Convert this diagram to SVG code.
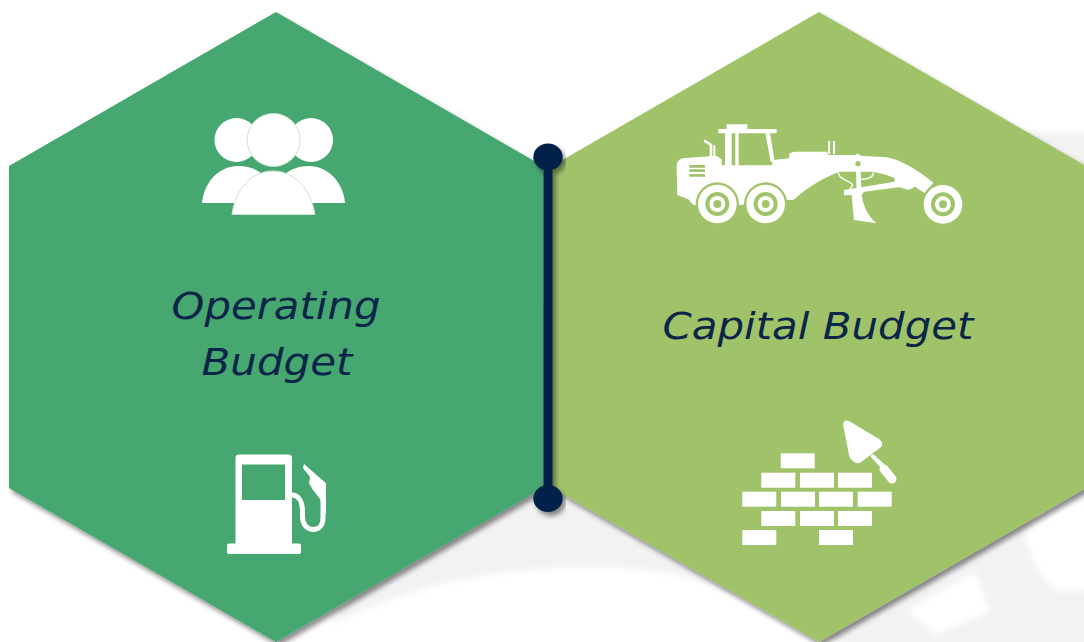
<svg xmlns="http://www.w3.org/2000/svg" width="1084" height="642" viewBox="0 0 1084 642">
<style>
.w{fill:#fff}
.lbl{font-family:"DejaVu Sans","Liberation Sans",sans-serif;font-style:italic;font-size:38px;fill:#0a2547;text-anchor:middle}
.hs{fill:none;stroke:#fff;stroke-linecap:round}
</style>
<defs>
<filter id="sh" x="-10%" y="-10%" width="120%" height="120%"><feDropShadow dx="3" dy="4" stdDeviation="2.500" flood-color="#000" flood-opacity=".45"/></filter>
<filter id="bl" x="-5%" y="-5%" width="110%" height="110%"><feGaussianBlur stdDeviation="3"/></filter>
<clipPath id="cv"><rect width="1084" height="642"/></clipPath>
</defs>
<rect width="1084" height="642" fill="#fff"/>
<g id="watermark" clip-path="url(#cv)">
<path d="M330 625C400 590 480 568 590 567C650 567 690 576 730 592L880 660H1120V132H1030L548 300Z" fill="#f2f2f2" filter="url(#bl)"/>
<path d="M907 610L975 572L990 612L935 635Z" fill="#fff" filter="url(#bl)"/>
<path d="M1025 537C1032 560 1045 590 1063 592L1100 588V500H1040Z" fill="#fff" filter="url(#bl)"/>
</g>
<g id="operating-budget">
<polygon points="276,12 543,166 543,488 276,642 9,488 9,166" fill="#46a771" filter="url(#sh)"/>
<text class="lbl" x="276" y="319" textLength="209" lengthAdjust="spacingAndGlyphs">Operating</text>
<text class="lbl" x="277" y="375" textLength="151" lengthAdjust="spacingAndGlyphs">Budget</text>
<g id="people-icon">
<circle class="w" cx="236.500" cy="140" r="22"/>
<circle class="w" cx="311" cy="140" r="22"/>
<path class="w" d="M202 203C204 181 220 166 238 166C248 166 256 169 262 174L240 203Z"/>
<path class="w" d="M345 203C343 181 327 166 309 166C299 166 291 169 285 174L307 203Z"/>
<circle class="w" cx="273.500" cy="140" r="26.500" stroke="#c8e6d3" stroke-width="1"/>
<path class="w" d="M232 214.500C235 190 251 171 273 171C295 171 311 190 315 214.500Z" stroke="#c8e6d3" stroke-width="1"/>
</g>
<g id="pump-icon">
<path class="w" fill-rule="evenodd" d="M239 454.500H288.500Q292 454.500 292 458V543.500H299Q301 543.500 301 545.500V552Q301 554 299 554H229Q227 554 227 552V545.500Q227 543.500 229 543.500H235.500V458Q235.500 454.500 239 454.500ZM242 464.500V500H285V464.500Z"/>
<path class="hs" stroke-width="5" d="M292 495C299 495 302 502 302.500 510V517C303 525 307 529.500 313 529.500C319 529.500 323 525 323 518V500"/>
<path class="w" d="M304 464L326 483.300V515L320 499L313 490L309 483L310 477L303 468Z"/>
</g>
</g>
<g id="capital-budget">
<polygon points="819,12 1086,166 1086,488 819,642 552,488 552,166" fill="#a0c36b" filter="url(#sh)"/>
<text class="lbl" x="818" y="339" textLength="311" lengthAdjust="spacingAndGlyphs">Capital Budget</text>
<g id="grader-icon" transform="translate(660 110) scale(.3333)">
<path class="w" d="M200 57V43H262V57H350V70H175V57Z"/>
<rect class="w" x="195" y="68" width="20" height="100"/>
<rect class="w" x="226" y="68" width="10" height="100"/>
<path class="w" d="M316 68H330L344 155H332Z"/>
<path class="hs" stroke-width="8" stroke-linecap="butt" d="M135 93L153 105V142"/>
<path class="hs" stroke-width="6" stroke-linecap="butt" d="M163 108V142M507 95V130M522 95V130"/>
<path class="w" d="M68 145L170 137L185 148V166H335L340 150L388 145V130L403 125H500L505 135H585L593 130L602 137L680 142C720 150 760 170 820 218L795 250L765 230L745 240L700 225L705 205L680 195L640 185H540C500 198 450 225 400 270H385L240 285L100 285L85 268L52 255L50 175C50 155 55 150 68 145Z"/>
<path fill="#a0c36b" d="M88 165H135V173H88ZM88 178H135V186H88ZM88 192H135V200H88Z"/>
<circle fill="#a0c36b" cx="594" cy="161" r="8"/>
<path class="w" d="M552 240L700 216L745 215L745 228L612 245L605 255C610 290 625 320 650 340L582 330L575 255L552 256Z"/>
<path class="w" d="M588 180H602L604 245H590Z"/>
<path class="hs" stroke-width="4" d="M535 188C538 212 570 210 578 225L565 245M640 188C640 208 610 208 600 208"/>
<circle fill="#a0c36b" cx="172" cy="282" r="65"/>
<circle fill="#a0c36b" cx="317" cy="282" r="65"/>
<circle fill="#a0c36b" cx="849" cy="283" r="65"/>
<g id="wheels">
<circle class="w" cx="172" cy="282" r="58"/><circle fill="#a0c36b" cx="172" cy="282" r="36"/><circle class="w" cx="172" cy="282" r="24"/><circle fill="#a0c36b" cx="172" cy="282" r="12"/>
<circle class="w" cx="317" cy="282" r="58"/><circle fill="#a0c36b" cx="317" cy="282" r="36"/><circle class="w" cx="317" cy="282" r="24"/><circle fill="#a0c36b" cx="317" cy="282" r="12"/>
<circle class="w" cx="849" cy="283" r="58"/><circle fill="#a0c36b" cx="849" cy="283" r="36"/><circle class="w" cx="849" cy="283" r="24"/><circle fill="#a0c36b" cx="849" cy="283" r="12"/>
</g>
</g>
<g id="brick-icon" class="w">
<rect x="780.700" y="453.300" width="34" height="15"/>
<rect x="761.300" y="472.700" width="34" height="15"/><rect x="800" y="472.700" width="34" height="15"/><rect x="838" y="472.700" width="34" height="15"/>
<rect x="742.300" y="491.700" width="34" height="15"/><rect x="781" y="491.700" width="34" height="15"/><rect x="819" y="491.700" width="34" height="15"/><rect x="857.700" y="491.700" width="34" height="15"/>
<rect x="761.300" y="511" width="34" height="15"/><rect x="800" y="511" width="34" height="15"/><rect x="838" y="511" width="34" height="15"/>
<rect x="742.300" y="530" width="34" height="15"/><rect x="819" y="530" width="34" height="15"/>
<path d="M843 424Q844 419 849 421L879 439Q884 443 881 447L861 462Q857 465 853 461Q850 459 849 455Z"/>
<path d="M870 456L873 454L884 464L881 468Z"/>
<path class="hs" stroke-width="9" d="M884 469L892 479"/>
</g>
</g>
<g id="connectors">
<g filter="url(#sh)" fill="#05224a">
<rect x="543.500" y="156" width="9" height="344"/>
<ellipse cx="548" cy="157" rx="14.700" ry="13.500"/>
<ellipse cx="548" cy="498.500" rx="14.700" ry="13.500"/>
</g>
</g>
</svg>
